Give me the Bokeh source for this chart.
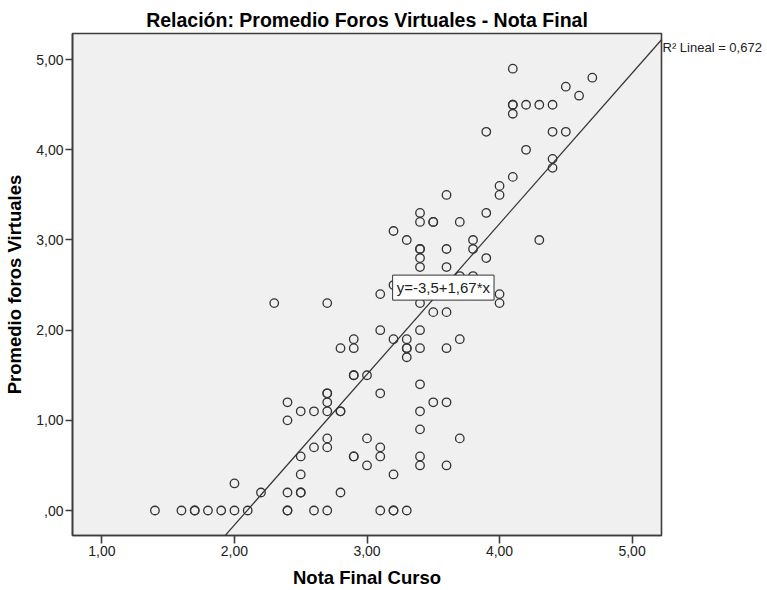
from bokeh.plotting import figure
from bokeh.models import (Range1d, FixedTicker, Label, ColumnDataSource,
                          LinearAxis, CustomJSTickFormatter)
from bokeh.embed import file_html
from bokeh.resources import INLINE

# ---- data ----
nota_final = [
    1.4, 1.6, 1.7, 1.7, 1.8, 1.9, 2.0, 2.1, 2.4, 2.4, 2.6, 2.7, 3.1, 3.2, 3.2, 3.3,
    2.0, 2.2, 2.4, 2.5, 2.5, 2.8, 2.5, 2.5, 2.6, 2.7, 2.7, 2.4, 2.4, 2.5, 2.6, 2.7,
    2.8, 2.8, 2.7, 2.7, 2.7, 2.9, 2.9, 3.0, 3.0, 3.1, 3.1, 3.2, 3.1,
    3.4, 3.5, 3.6, 3.4, 3.4, 3.7, 3.4, 3.4, 3.6,
    2.3, 2.7, 3.1, 3.2, 3.1, 2.9, 3.2, 2.8, 2.9, 2.9, 2.9, 3.0,
    3.2, 3.3, 3.4, 3.5, 3.5, 3.7, 3.4, 3.4, 3.4, 3.4, 3.6, 3.8, 3.8, 3.9, 4.3,
    3.6, 3.7, 3.8, 4.0, 4.0, 3.4, 3.5, 3.6, 3.4, 3.3, 3.3, 3.3, 3.3, 3.4, 3.6, 3.7,
    4.1, 4.1, 4.1, 4.1, 4.2, 4.3, 4.4, 3.9, 4.4, 4.2, 4.4, 4.4, 4.1, 4.0, 4.0,
    3.6, 3.9, 3.4, 4.7, 4.5, 4.6, 4.5,
]
promedio_foros = [
    0.0, 0.0, 0.0, 0.0, 0.0, 0.0, 0.0, 0.0, 0.0, 0.0, 0.0, 0.0, 0.0, 0.0, 0.0, 0.0,
    0.3, 0.2, 0.2, 0.2, 0.2, 0.2, 0.4, 0.6, 0.7, 0.7, 0.8, 1.0, 1.2, 1.1, 1.1, 1.1,
    1.1, 1.1, 1.2, 1.3, 1.3, 0.6, 0.6, 0.5, 0.8, 0.7, 0.6, 0.4, 1.3,
    1.4, 1.2, 1.2, 1.1, 0.9, 0.8, 0.6, 0.5, 0.5,
    2.3, 2.3, 2.4, 2.5, 2.0, 1.9, 1.9, 1.8, 1.8, 1.5, 1.5, 1.5,
    3.1, 3.0, 3.2, 3.2, 3.2, 3.2, 2.9, 2.9, 2.8, 2.7, 2.9, 3.0, 2.9, 2.8, 3.0,
    2.7, 2.6, 2.6, 2.4, 2.3, 2.3, 2.2, 2.2, 2.0, 1.9, 1.8, 1.8, 1.7, 1.8, 1.8, 1.9,
    4.9, 4.5, 4.5, 4.4, 4.5, 4.5, 4.5, 4.2, 4.2, 4.0, 3.9, 3.8, 3.7, 3.6, 3.5,
    3.5, 3.3, 3.3, 4.8, 4.7, 4.6, 4.2,
]
fit_intercept = -3.5
fit_slope = 1.67
r2_text = "R\u00b2 Lineal = 0,672"
eq_text = "y=-3,5+1,67*x"

x_ticks = [1, 2, 3, 4, 5]
x_tick_labels = ["1,00", "2,00", "3,00", "4,00", "5,00"]
y_ticks = [0, 1, 2, 3, 4, 5]
y_tick_labels = [",00", "1,00", "2,00", "3,00", "4,00", "5,00"]

title_text = "Relación: Promedio Foros Virtuales - Nota Final"
x_label = "Nota Final Curso"
y_label = "Promedio foros Virtuales"

FONT = "Liberation Sans"
DARK = "#333333"

x_range = Range1d(0.778, 5.222)
y_range = Range1d(-0.277, 5.29)

p = figure(width=767, height=590, x_range=x_range, y_range=y_range,
           output_backend="svg", toolbar_location=None,
           min_border_left=72, min_border_right=106,
           min_border_top=33, min_border_bottom=54)

p.background_fill_color = "#f0f0f0"
p.border_fill_color = "white"
p.outline_line_color = "#3c3c3c"
p.outline_line_width = 1.6
p.grid.visible = False

# title
p.title.text = title_text
p.title.align = "center"
p.title.offset = 6
p.title.text_font = FONT
p.title.text_font_size = "19.5px"
p.title.text_font_style = "bold"
p.title.text_color = "black"
p.title.vertical_align = "bottom"
p.title.standoff = 6

# axes
for ax in (p.xaxis[0], p.yaxis[0]):
    ax.axis_line_color = "#3c3c3c"
    ax.axis_line_width = 1.6
    ax.major_tick_line_color = "#3c3c3c"
    ax.major_tick_line_width = 1.6
    ax.major_tick_in = 0
    ax.minor_tick_line_color = None
    ax.major_label_text_font = FONT
    ax.major_label_text_font_size = "14px"
    ax.major_label_text_color = "#222222"
    ax.axis_label_text_font = FONT
    ax.axis_label_text_font_size = "18.5px"
    ax.axis_label_text_font_style = "bold"
    ax.axis_label_text_color = "black"

p.xaxis[0].ticker = FixedTicker(ticks=x_ticks)
p.xaxis[0].major_label_overrides = {t: l for t, l in zip(x_ticks, x_tick_labels)}
p.xaxis[0].major_tick_out = 8
p.xaxis[0].major_label_standoff = 2
p.xaxis[0].axis_label = x_label
p.xaxis[0].axis_label_standoff = 8

p.yaxis[0].ticker = FixedTicker(ticks=y_ticks)
p.yaxis[0].major_label_overrides = {t: l for t, l in zip(y_ticks, y_tick_labels)}
p.yaxis[0].major_tick_out = 7
p.yaxis[0].major_label_standoff = 2
p.yaxis[0].axis_label = y_label
p.yaxis[0].axis_label_standoff = 8

# regression line across the visible range
x0 = max(x_range.start, (y_range.start - fit_intercept) / fit_slope)
x1 = min(x_range.end, (y_range.end - fit_intercept) / fit_slope)
line_x = [x_range.start, x_range.end]
line_y = [fit_intercept + fit_slope * v for v in line_x]
p.line(line_x, line_y, line_color=DARK, line_width=1.2)

# points
src = ColumnDataSource(dict(x=nota_final, y=promedio_foros))
p.scatter("x", "y", source=src, marker="circle", size=8.5,
          fill_alpha=0, line_color=DARK, line_width=1.3)

# equation label at the midpoint of the visible fit line
xm = (x0 + x1) / 2
ym = fit_intercept + fit_slope * xm
p.add_layout(Label(x=xm, y=ym, text=eq_text, text_align="center",
                   text_baseline="middle", text_font=FONT,
                   text_font_size="15px", text_color="#222222",
                   background_fill_color="white", background_fill_alpha=1,
                   border_line_color=DARK, border_line_width=1, padding=4))

# R2 text just below the end of the fit line, drawn as a right-side axis label
line_end_y = fit_intercept + fit_slope * x_range.end
r2_y = round(line_end_y - 0.08, 2)
r2_axis = LinearAxis(ticker=FixedTicker(ticks=[r2_y]),
                     formatter=CustomJSTickFormatter(code="return %r;" % r2_text),
                     axis_line_color=None, major_tick_line_color=None,
                     minor_tick_line_color=None, major_tick_out=0,
                     major_tick_in=0, major_label_standoff=1,
                     major_label_text_font=FONT,
                     major_label_text_font_size="13px",
                     major_label_text_color="#222222")
p.add_layout(r2_axis, "right")

open("out.html", "w").write(file_html(p, INLINE))
